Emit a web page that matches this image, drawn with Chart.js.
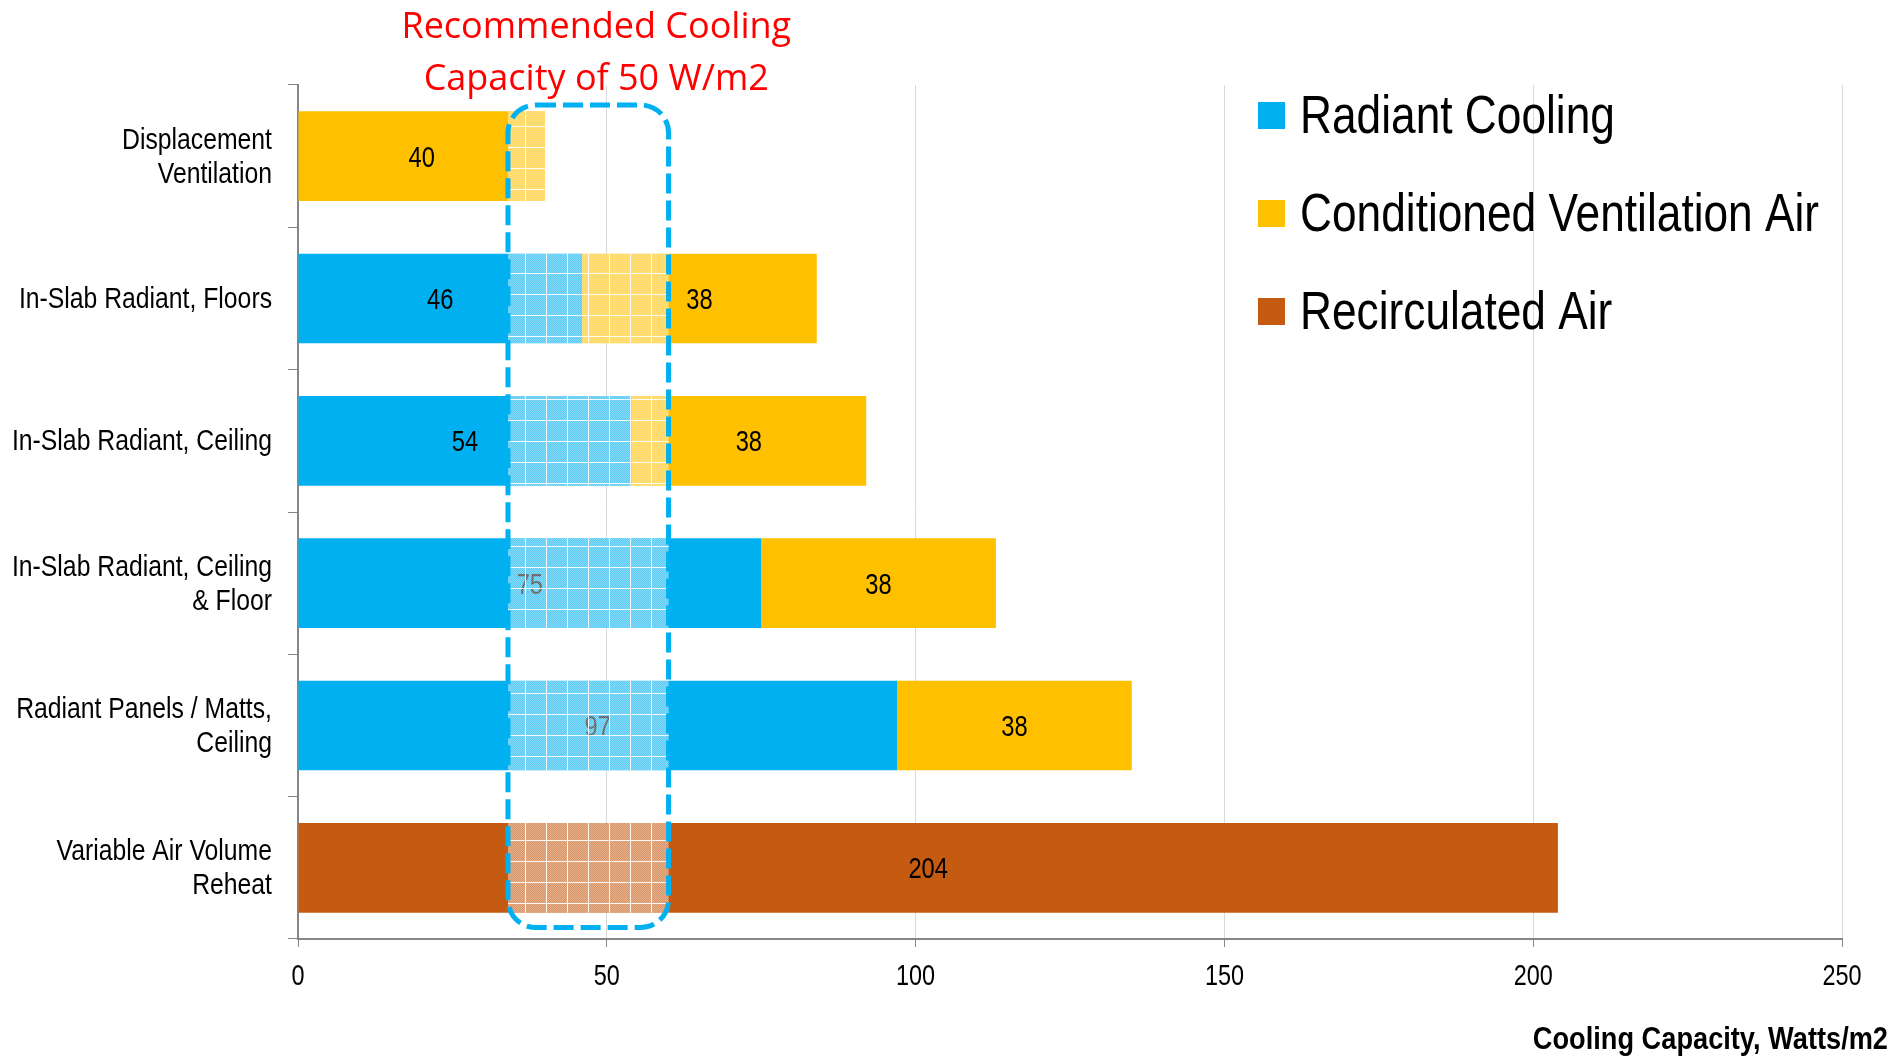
<!DOCTYPE html>
<html>
<head>
<meta charset="utf-8">
<title>Cooling Capacity by System</title>
<script src="https://cdn.jsdelivr.net/npm/chart.js@4.4.1/dist/chart.umd.min.js"></script>
<style>
  html, body { margin: 0; padding: 0; background: #fff; }
  #wrap { width: 1898px; height: 1058px; }
</style>
</head>
<body>
<div id="wrap"><canvas id="coolingChart" width="1898" height="1058"></canvas></div>
<script>
// categories and series (Watts/m2)
const categories = [
  ['Displacement', 'Ventilation'],
  ['In-Slab Radiant, Floors'],
  ['In-Slab Radiant, Ceiling'],
  ['In-Slab Radiant, Ceiling', '& Floor'],
  ['Radiant Panels / Matts,', 'Ceiling'],
  ['Variable Air Volume', 'Reheat']
];
const radiantCooling = [null, 46, 54, 75, 97, null];
const ventilationAir = [40, 38, 38, 38, 38, null];
const recirculatedAir = [null, null, null, null, null, 204];
const xTicks = [0, 50, 100, 150, 200, 250];

// highlighted band around the recommended capacity
const recommendedRange = [34, 60];
const recommendedLabel = ['Recommended Cooling', 'Capacity of 50 W/m2'];
const axisTitle = 'Cooling Capacity, Watts/m2';

const SANS = '"Liberation Sans", Arial, sans-serif';
const BLUE = '#00B0F0';
const YELLOW = '#FFC000';
const BROWN = '#C55A11';

// no Arial Narrow here, so squeeze Liberation Sans horizontally
function narrowText(ctx, text, x, y, size, align, sx, bold) {
  ctx.save();
  ctx.font = (bold ? 'bold ' : '') + size + 'px ' + SANS;
  ctx.fillStyle = '#000';
  ctx.textAlign = align;
  ctx.textBaseline = 'alphabetic';
  ctx.translate(x, y);
  ctx.scale(sx, 1);
  ctx.fillText(text, 0, 0);
  ctx.restore();
}

// white grid + stipple used to shade bars inside the band
function makeHatch() {
  const c = document.createElement('canvas');
  c.width = 21; c.height = 21;
  const g = c.getContext('2d');
  g.fillStyle = 'rgba(255,255,255,0.25)';
  for (let i = 0; i < 21; i++) {
    for (let j = 0; j < 21; j++) {
      if ((i + j) % 2 === 0) g.fillRect(i, j, 1, 1);
    }
  }
  g.fillStyle = 'rgba(255,255,255,0.9)';
  g.fillRect(0, 0, 21, 1);
  g.fillRect(0, 0, 1, 21);
  return c;
}

const overlayPlugin = {
  id: 'overlay',
  afterDatasetsDraw(chart) {
    const ctx = chart.ctx;
    const xs = chart.scales.x;
    const ys = chart.scales.y;
    const area = chart.chartArea;

    // value labels, centred in each segment
    chart.data.datasets.forEach((ds, i) => {
      chart.getDatasetMeta(i).data.forEach((bar, j) => {
        const v = ds.data[j];
        if (v == null) return;
        const p = bar.getProps(['x', 'y', 'base'], true);
        narrowText(ctx, String(v), (p.x + p.base) / 2, p.y + 10.5, 30, 'center', 0.79);
      });
    });

    // shaded part of the bars inside the band
    const bx0 = xs.getPixelForValue(recommendedRange[0]);
    const bx1 = xs.getPixelForValue(recommendedRange[1]);
    const pattern = ctx.createPattern(makeHatch(), 'repeat');
    ctx.save();
    chart.data.datasets.forEach((ds, i) => {
      chart.getDatasetMeta(i).data.forEach((bar, j) => {
        if (ds.data[j] == null) return;
        const p = bar.getProps(['x', 'y', 'base', 'height'], true);
        const l = Math.max(Math.min(p.x, p.base), bx0);
        const r = Math.min(Math.max(p.x, p.base), bx1);
        if (r <= l) return;
        const t = p.y - p.height / 2;
        ctx.fillStyle = 'rgba(255,255,255,0.36)';
        ctx.fillRect(l, t, r - l, p.height);
        ctx.fillStyle = pattern;
        ctx.fillRect(l, t, r - l, p.height);
      });
    });
    ctx.restore();

    // dashed rounded box
    const top = ys.getPixelForValue(-0.36);
    const bottom = ys.getPixelForValue(5.42);
    const rad = 28;
    ctx.save();
    ctx.strokeStyle = BLUE;
    ctx.lineWidth = 5;
    ctx.setLineDash([20, 7]);
    ctx.beginPath();
    ctx.moveTo(bx0 + rad, top);
    ctx.lineTo(bx1 - rad, top);
    ctx.arcTo(bx1, top, bx1, top + rad, rad);
    ctx.lineTo(bx1, bottom - rad);
    ctx.arcTo(bx1, bottom, bx1 - rad, bottom, rad);
    ctx.lineTo(bx0 + rad, bottom);
    ctx.arcTo(bx0, bottom, bx0, bottom - rad, rad);
    ctx.lineTo(bx0, top + rad);
    ctx.arcTo(bx0, top, bx0 + rad, top, rad);
    ctx.closePath();
    ctx.stroke();
    ctx.restore();

    // red caption above the band
    ctx.save();
    ctx.font = '36px "Open Sans", sans-serif';
    ctx.fillStyle = '#FF0000';
    ctx.textAlign = 'center';
    ctx.textBaseline = 'alphabetic';
    const cx = (bx0 + bx1) / 2 + 8;
    ctx.fillText(recommendedLabel[0], cx, area.top - 47);
    ctx.fillText(recommendedLabel[1], cx, area.top + 5);
    ctx.restore();

    // legend, top right inside the plot
    chart.data.datasets.forEach((ds, i) => {
      const cy = area.top + 30 + i * 98;
      ctx.fillStyle = ds.backgroundColor;
      ctx.fillRect(1258, cy - 13, 27, 27);
      narrowText(ctx, ds.label, 1300, cy + 18, 53, 'left', 0.835);
    });
  },
  afterDraw(chart) {
    const ctx = chart.ctx;
    const xs = chart.scales.x;
    const ys = chart.scales.y;
    const area = chart.chartArea;

    // category labels, right aligned against the axis
    categories.forEach((lines, i) => {
      const cy = ys.getPixelForValue(i);
      const first = cy - (lines.length - 1) * 17;
      lines.forEach((line, k) => {
        narrowText(ctx, line, area.left - 26, first + k * 34 + 9.5, 30, 'right', 0.825);
      });
    });

    // value axis tick labels
    xTicks.forEach(v => {
      narrowText(ctx, String(v), xs.getPixelForValue(v), area.bottom + 46, 30, 'center', 0.78);
    });

    // axis title, bottom right
    narrowText(ctx, axisTitle, chart.width - 10, chart.height - 9, 32, 'right', 0.85, true);
  }
};

new Chart(document.getElementById('coolingChart'), {
  type: 'bar',
  data: {
    labels: categories,
    datasets: [
      { label: 'Radiant Cooling', data: radiantCooling, backgroundColor: BLUE },
      { label: 'Conditioned Ventilation Air', data: ventilationAir, backgroundColor: YELLOW },
      { label: 'Recirculated Air', data: recirculatedAir, backgroundColor: BROWN }
    ]
  },
  options: {
    indexAxis: 'y',
    responsive: false,
    animation: false,
    devicePixelRatio: 1,
    layout: { padding: { top: 85, right: 56, bottom: 0, left: 0 } },
    datasets: { bar: { categoryPercentage: 0.63, barPercentage: 1, borderWidth: 0 } },
    plugins: {
      legend: { display: false },
      tooltip: { enabled: false }
    },
    scales: {
      x: {
        stacked: true,
        min: xTicks[0],
        max: xTicks[xTicks.length - 1],
        afterBuildTicks: (scale) => { scale.ticks = xTicks.map(v => ({ value: v })); },
        afterFit: (scale) => { scale.height = 119; },
        grid: { color: '#D9D9D9', lineWidth: 1, tickLength: 8, tickColor: '#868686' },
        border: { color: '#868686', width: 2 },
        ticks: { display: false }
      },
      y: {
        stacked: true,
        afterFit: (scale) => { scale.width = 298; },
        grid: { drawOnChartArea: false, tickLength: 10, tickColor: '#868686', offset: true },
        border: { color: '#868686', width: 2 },
        ticks: { display: false }
      }
    }
  },
  plugins: [overlayPlugin]
});
</script>
</body>
</html>
